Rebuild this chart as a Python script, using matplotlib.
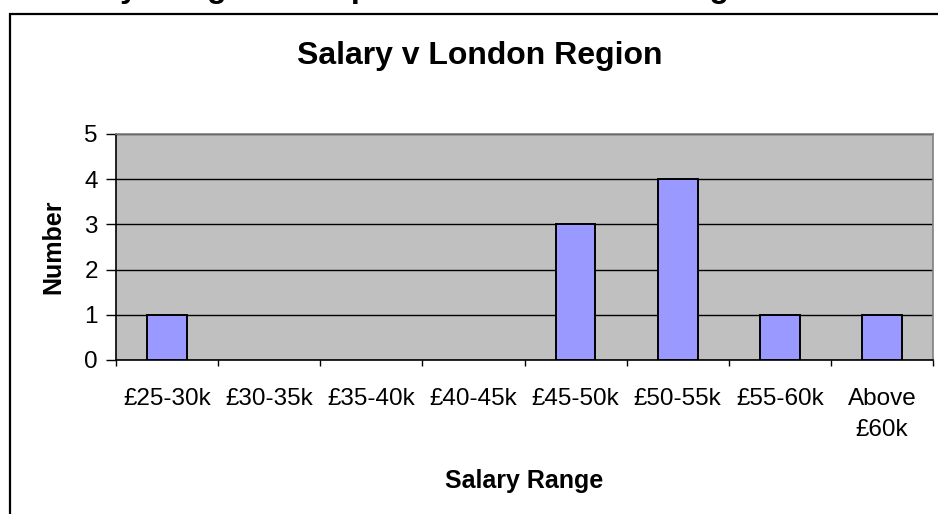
import matplotlib
matplotlib.use("Agg")
import matplotlib.pyplot as plt
from matplotlib.patches import Rectangle
import numpy as np

plt.rcParams['font.family'] = ['Liberation Sans', 'DejaVu Sans']

categories = ["£25-30k", "£30-35k", "£35-40k", "£40-45k", "£45-50k",
              "£50-55k", "£55-60k", "Above\n£60k"]
counts = [1, 0, 0, 0, 3, 4, 1, 1]
y_ticks = [0, 1, 2, 3, 4, 5]

W, H = 938, 514
fig = plt.figure(figsize=(W / 100, H / 100), dpi=100)
fig.patch.set_facecolor("white")

# outer chart border (extends beyond the image on the right and bottom)
fig.patches.append(Rectangle((10 / W, -0.1), 1.2, (H - 14) / H + 0.1,
                             transform=fig.transFigure, fill=False,
                             edgecolor="black", linewidth=1.6, clip_on=False))

# clipped document heading at the very top (only descenders visible)
fig.text(42 / W, 1.0 + 3 / H, "Salary Ranges  Compared to the London Region",
         fontsize=23, fontweight="bold", ha="left", va="baseline")

ax = fig.add_axes([116 / W, 1 - 360 / H, (933 - 116) / W, (360 - 134) / H])
ax.set_facecolor("#C0C0C0")

x = np.arange(len(categories))
edge_colors = ["black" if c > 0 else "none" for c in counts]
ax.bar(x, counts, width=0.39, color="#9999FF", edgecolor=edge_colors,
       linewidth=1.4, zorder=3)

ax.set_xlim(-0.5, len(categories) - 0.5)
ax.set_ylim(0, 5)
ax.set_yticks(y_ticks)
ax.yaxis.grid(True, color="black", linewidth=1.0, zorder=1)
ax.set_axisbelow(True)

ax.set_xticks(x)
ax.set_xticklabels(categories, fontsize=17.5, linespacing=1.55)
ax.set_xticks(np.arange(-0.5, len(categories), 1.0), minor=True)
ax.tick_params(axis="x", which="major", length=0, pad=20)
ax.tick_params(axis="x", which="minor", length=4, width=1, color="black")
ax.tick_params(axis="y", length=7, width=1, pad=6, labelsize=17.5)

for s in ["top", "right"]:
    ax.spines[s].set_color("#808080")
    ax.spines[s].set_linewidth(1.2)
for s in ["left", "bottom"]:
    ax.spines[s].set_color("black")
    ax.spines[s].set_linewidth(1.2)

ax.set_xlabel("Salary Range", fontsize=18, fontweight="bold", labelpad=20)
ax.set_ylabel("Number", fontsize=18, fontweight="bold", labelpad=14)

fig.text(480 / W, 1 - 56 / H, "Salary v London Region", fontsize=23,
         fontweight="bold", ha="center", va="center")

fig.savefig("out.png", dpi=100)
